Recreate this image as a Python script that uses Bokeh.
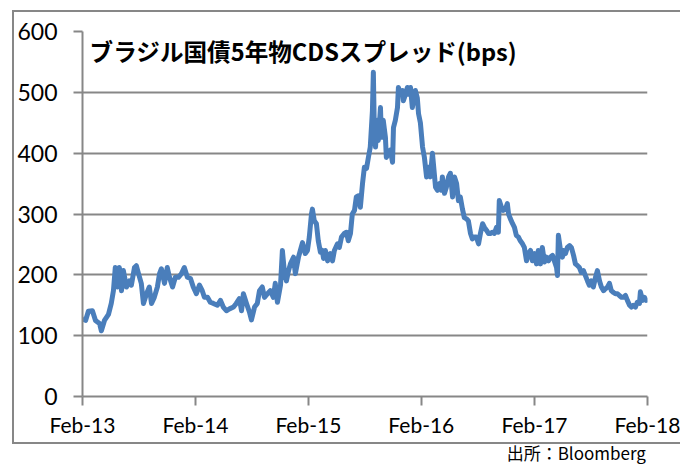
import pandas as pd
from bokeh.plotting import figure
from bokeh.layouts import column
from bokeh.models import (Range1d, FixedTicker, DatetimeTickFormatter, Label,
                          ColumnDataSource)
from bokeh.embed import file_html
from bokeh.resources import INLINE

# ---- data ----
dates = [
    "2013-02-01", "2013-02-11", "2013-02-20", "2013-03-05", "2013-03-15", "2013-03-28",
    "2013-04-03", "2013-04-13", "2013-04-26", "2013-05-05", "2013-05-12", "2013-05-18",
    "2013-05-25", "2013-05-31", "2013-06-07", "2013-06-13", "2013-06-23", "2013-07-03",
    "2013-07-09", "2013-07-19", "2013-07-25", "2013-08-01", "2013-08-10", "2013-08-17",
    "2013-08-27", "2013-09-05", "2013-09-12", "2013-09-21", "2013-10-01", "2013-10-08",
    "2013-10-14", "2013-10-24", "2013-11-02", "2013-11-09", "2013-11-19", "2013-11-28",
    "2013-12-08", "2013-12-18", "2013-12-27", "2014-01-06", "2014-01-16", "2014-01-25",
    "2014-02-04", "2014-02-14", "2014-02-23", "2014-03-02", "2014-03-12", "2014-03-21",
    "2014-03-31", "2014-04-13", "2014-04-23", "2014-05-02", "2014-05-12", "2014-05-22",
    "2014-06-04", "2014-06-13", "2014-06-23", "2014-06-30", "2014-07-06", "2014-07-16",
    "2014-07-26", "2014-08-01", "2014-08-11", "2014-08-20", "2014-08-27", "2014-09-05",
    "2014-09-12", "2014-09-22", "2014-10-01", "2014-10-11", "2014-10-17", "2014-10-24",
    "2014-11-03", "2014-11-09", "2014-11-16", "2014-11-22", "2014-11-29", "2014-12-05",
    "2014-12-15", "2014-12-21", "2014-12-31", "2015-01-06", "2015-01-13", "2015-01-22",
    "2015-01-29", "2015-02-04", "2015-02-11", "2015-02-14", "2015-02-20", "2015-02-27",
    "2015-03-05", "2015-03-12", "2015-03-18", "2015-03-22", "2015-03-28", "2015-04-04",
    "2015-04-13", "2015-04-20", "2015-04-26", "2015-05-06", "2015-05-12", "2015-05-19",
    "2015-05-28", "2015-06-04", "2015-06-10", "2015-06-17", "2015-06-23", "2015-06-30",
    "2015-07-06", "2015-07-13", "2015-07-19", "2015-07-26", "2015-08-01", "2015-08-08",
    "2015-08-14", "2015-08-20", "2015-08-27", "2015-08-30", "2015-09-02", "2015-09-06",
    "2015-09-12", "2015-09-15", "2015-09-22", "2015-09-25", "2015-10-01", "2015-10-08",
    "2015-10-11", "2015-10-18", "2015-10-24", "2015-10-31", "2015-11-03", "2015-11-09",
    "2015-11-16", "2015-11-19", "2015-11-25", "2015-12-02", "2015-12-05", "2015-12-12",
    "2015-12-18", "2015-12-21", "2015-12-28", "2016-01-03", "2016-01-07", "2016-01-13",
    "2016-01-19", "2016-01-23", "2016-01-29", "2016-02-05", "2016-02-11", "2016-02-18",
    "2016-02-24", "2016-03-01", "2016-03-08", "2016-03-11", "2016-03-18", "2016-03-24",
    "2016-03-31", "2016-04-06", "2016-04-09", "2016-04-16", "2016-04-22", "2016-04-29",
    "2016-05-05", "2016-05-12", "2016-05-18", "2016-05-25", "2016-05-31", "2016-06-06",
    "2016-06-13", "2016-06-19", "2016-06-26", "2016-07-02", "2016-07-09", "2016-07-15",
    "2016-07-22", "2016-07-28", "2016-08-04", "2016-08-10", "2016-08-17", "2016-08-23",
    "2016-08-30", "2016-09-05", "2016-09-11", "2016-09-18", "2016-09-24", "2016-10-01",
    "2016-10-07", "2016-10-10", "2016-10-17", "2016-10-23", "2016-10-30", "2016-11-05",
    "2016-11-09", "2016-11-15", "2016-11-22", "2016-11-28", "2016-12-04", "2016-12-11",
    "2016-12-17", "2016-12-24", "2016-12-30", "2017-01-06", "2017-01-12", "2017-01-19",
    "2017-01-25", "2017-02-01", "2017-02-07", "2017-02-13", "2017-02-20", "2017-02-26",
    "2017-03-05", "2017-03-11", "2017-03-18", "2017-03-24", "2017-03-31", "2017-04-06",
    "2017-04-13", "2017-04-16", "2017-04-19", "2017-04-26", "2017-05-02", "2017-05-05",
    "2017-05-12", "2017-05-18", "2017-05-25", "2017-05-31", "2017-06-07", "2017-06-13",
    "2017-06-20", "2017-06-26", "2017-07-02", "2017-07-09", "2017-07-15", "2017-07-22",
    "2017-07-28", "2017-08-04", "2017-08-10", "2017-08-17", "2017-08-23", "2017-08-30",
    "2017-09-05", "2017-09-12", "2017-09-18", "2017-09-25", "2017-10-01", "2017-10-07",
    "2017-10-14", "2017-10-20", "2017-10-27", "2017-11-02", "2017-11-09", "2017-11-15",
    "2017-11-22", "2017-11-28", "2017-12-05", "2017-12-11", "2017-12-17", "2017-12-24",
    "2017-12-30", "2018-01-06", "2018-01-09", "2018-01-16", "2018-01-22", "2018-01-28",
    "2018-02-01",
]
cds_bps = [
    128, 125, 140, 141, 125, 120,
    108, 125, 135, 153, 174, 212,
    180, 212, 174, 207, 180, 190,
    183, 212, 215, 202, 186, 153,
    169, 180, 153, 163, 180, 202,
    210, 186, 212, 196, 180, 196,
    196, 202, 212, 196, 194, 180,
    169, 183, 174, 163, 163, 155,
    153, 150, 158, 147, 141, 144,
    147, 153, 161, 141, 169, 153,
    138, 126, 147, 153, 174, 180,
    163, 169, 174, 163, 186, 155,
    183, 240, 202, 190, 207, 218,
    229, 202, 229, 240, 253, 235,
    240, 262, 300, 308, 289, 284,
    256, 237, 240, 227, 240, 223,
    235, 223, 240, 251, 245, 262,
    268, 270, 256, 268, 300, 306,
    328, 330, 311, 350, 377, 375,
    393, 410, 470, 533, 442, 410,
    454, 421, 475, 426, 454, 426,
    393, 400, 405, 385, 442, 454,
    475, 508, 497, 503, 486, 497,
    508, 497, 508, 475, 486, 503,
    491, 465, 450, 410, 393, 361,
    377, 361, 400, 383, 344, 339,
    350, 339, 361, 334, 344, 361,
    367, 328, 361, 350, 322, 328,
    308, 294, 292, 289, 268, 259,
    262, 262, 251, 268, 284, 278,
    273, 268, 268, 270, 268, 278,
    270, 322, 311, 306, 308, 317,
    300, 292, 284, 278, 265, 262,
    256, 251, 245, 223, 235, 240,
    223, 235, 218, 240, 218, 245,
    221, 229, 223, 229, 232, 223,
    212, 199, 265, 240, 229, 240,
    235, 245, 248, 245, 232, 218,
    215, 212, 204, 207, 199, 190,
    183, 190, 180, 196, 207, 190,
    180, 174, 177, 180, 186, 174,
    171, 169, 169, 166, 163, 163,
    166, 158, 150, 147, 150, 147,
    155, 153, 172, 158, 163, 158,
    161,
]
x_ticks = ["2013-02-01", "2014-02-01", "2015-02-01", "2016-02-01", "2017-02-01", "2018-02-01"]
y_ticks = [0, 100, 200, 300, 400, 500, 600]
series_title = "ブラジル国債5年物CDSスプレッド(bps)"
source_note = "出所：Bloomberg"

axis_gray = "#878787"

# ---- main chart (inside the grey box) ----
x_start = pd.Timestamp(x_ticks[0])
x_end = pd.Timestamp(x_ticks[-1])

p = figure(width=668, height=434, x_axis_type="datetime",
           x_range=Range1d(x_start, x_end), y_range=Range1d(y_ticks[0], y_ticks[-1]),
           output_backend="svg", toolbar_location=None,
           min_border_left=70, min_border_right=33, min_border_top=21, min_border_bottom=48)
p.margin = (10, 0, 0, 12)
p.outline_line_color = None
p.background_fill_color = "white"
p.border_fill_alpha = 0
p.styles = {"box-shadow": f"inset 2px 0 0 {axis_gray}, inset 0 2px 0 {axis_gray}, inset 0 -2px 0 {axis_gray}"}

src = ColumnDataSource(data=dict(date=pd.to_datetime(dates), value=cds_bps))
p.line("date", "value", source=src, line_color="#4A7EBB", line_width=5, line_join="round")

p.xaxis.ticker = FixedTicker(ticks=[pd.Timestamp(t).value / 1e6 for t in x_ticks])
fmt = "%b-%y"
p.xaxis.formatter = DatetimeTickFormatter(years=fmt, months=fmt, days=fmt, hours=fmt,
                                          minutes=fmt, seconds=fmt, milliseconds=fmt,
                                          microseconds=fmt, minsec=fmt, hourmin=fmt)
p.yaxis.ticker = FixedTicker(ticks=y_ticks)

for ax in (p.xaxis, p.yaxis):
    ax.axis_line_color = axis_gray
    ax.axis_line_width = 2
    ax.major_tick_line_color = axis_gray
    ax.major_tick_line_width = 2
    ax.major_tick_out = 9
    ax.major_tick_in = 0
    ax.minor_tick_line_color = None
    ax.major_label_text_font = "Lato"
    ax.major_label_text_color = "black"
p.xaxis.major_label_text_font_size = "21px"
p.yaxis.major_label_text_font_size = "23px"
p.xaxis.major_label_standoff = 6
p.yaxis.major_label_standoff = 16

p.xgrid.grid_line_color = None
p.ygrid.grid_line_color = axis_gray
p.ygrid.grid_line_width = 2
p.ygrid.ticker = FixedTicker(ticks=y_ticks)

p.add_layout(Label(x=pd.Timestamp("2013-02-24"), y=596, text=series_title,
                   text_font="Noto Sans CJK JP", text_font_style="bold",
                   text_font_size="23.6px", text_color="black",
                   text_baseline="top", text_align="left"))

# ---- source note (below the grey box; transparent strip overlapping its bottom) ----
note = figure(width=680, height=28, x_range=Range1d(0, 680), y_range=Range1d(28, 0),
              output_backend="svg", toolbar_location=None,
              x_axis_location=None, y_axis_location=None, min_border=0)
note.margin = (-8, 0, 0, 0)
note.outline_line_color = None
note.background_fill_alpha = 0
note.border_fill_alpha = 0
note.grid.visible = False
note.add_layout(Label(x=514, y=3, text=source_note,
                      text_font="Noto Sans CJK JP", text_font_size="17px",
                      text_color="black", text_baseline="top", text_align="left"))

layout = column(p, note, spacing=0)
open("out.html", "w").write(file_html(layout, INLINE))
